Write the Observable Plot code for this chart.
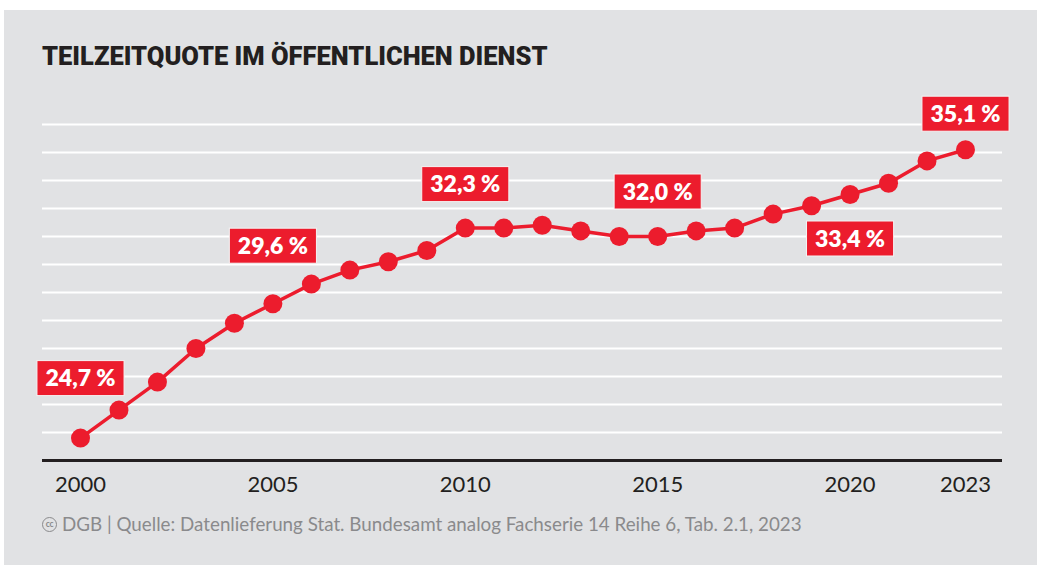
<!DOCTYPE html>
<html><head><meta charset="utf-8">
<script src="https://cdn.jsdelivr.net/npm/d3@7"></script>
<script src="https://cdn.jsdelivr.net/npm/@observablehq/plot@0.6"></script>
<style>
html,body{margin:0;padding:0;background:#fff;width:1037px;height:565px;overflow:hidden;}
#bg{position:absolute;left:4px;top:10px;width:1033px;height:555px;background:#e1e2e4;}
#title{position:absolute;left:42px;top:44px;font-family:Roboto,sans-serif;font-weight:900;font-size:25.5px;line-height:1;color:#231f20;white-space:nowrap;}
#chart{position:absolute;left:0;top:90px;}
#caption{position:absolute;left:42px;top:514px;font-family:Lato,sans-serif;font-size:18.8px;line-height:20px;height:20px;color:#8a8a8c;white-space:nowrap;display:flex;align-items:center;}
#caption .cc{display:inline-flex;align-items:center;justify-content:center;box-sizing:border-box;width:15px;height:15px;border:1.5px solid #8a8a8c;border-radius:50%;font-size:8.5px;font-weight:700;line-height:1;margin-right:5px;letter-spacing:-0.4px;}
</style>
</head><body>
<div id="bg"></div>
<div id="title">TEILZEITQUOTE IM ÖFFENTLICHEN DIENST</div>
<div id="chart"></div>
<div id="caption"><span class="cc">cc</span><span>DGB | Quelle: Datenlieferung Stat. Bundesamt analog Fachserie 14 Reihe 6, Tab. 2.1, 2023</span></div>
<script>
// ---- data ----
const years = [2000, 2001, 2002, 2003, 2004, 2005, 2006, 2007, 2008, 2009, 2010, 2011,
               2012, 2013, 2014, 2015, 2016, 2017, 2018, 2019, 2020, 2021, 2022, 2023];
const quote = [24.8, 25.8, 26.8, 28.0, 28.9, 29.6, 30.3, 30.8, 31.1, 31.5, 32.3, 32.3,
               32.4, 32.2, 32.0, 32.0, 32.2, 32.3, 32.8, 33.1, 33.5, 33.9, 34.7, 35.1];
const labelYears = [2000, 2005, 2010, 2015, 2020, 2023];
const labelTexts = ["24,7 %", "29,6 %", "32,3 %", "32,0 %", "33,4 %", "35,1 %"];
const xTicks = [2000, 2005, 2010, 2015, 2020, 2023];
const yGrid = [25, 26, 27, 28, 29, 30, 31, 32, 33, 34, 35, 36];
const yBase = [24];

// ---- build ----
const RED = "#ec1c2d";
const labelDy = {2000: -59, 2005: -57, 2010: -43, 2015: -44, 2020: 45, 2023: -35};
const data = years.map((y, i) => ({year: y, value: quote[i]}));
const labels = labelYears.map((y, i) => ({year: y, value: quote[years.indexOf(y)], text: labelTexts[i]}));

const plot = Plot.plot({
  width: 1037, height: 420,
  marginTop: 34, marginBottom: 50, marginLeft: 42, marginRight: 35,
  style: {background: "transparent", fontFamily: "Lato, sans-serif", fontSize: "22px", color: "#231f20", overflow: "visible"},
  x: {domain: [2000, 2023], insetLeft: 38, insetRight: 37, label: null},
  y: {domain: [24, 36], label: null, axis: null},
  marks: [
    Plot.ruleY(yGrid, {stroke: "#ffffff", strokeWidth: 2}),
    Plot.ruleY(yBase, {stroke: "#231f20", strokeWidth: 3}),
    Plot.axisX({ticks: xTicks, tickFormat: d => String(d), tickSize: 0, tickPadding: 16, label: null, fontSize: 22}),
    Plot.line(data, {x: "year", y: "value", stroke: RED, strokeWidth: 3.5}),
    Plot.dot(data, {x: "year", y: "value", r: 9.5, fill: RED}),
    ...labels.map(l => Plot.text([l], {
      x: "year", y: "value", text: "text", dy: labelDy[l.year],
      fill: "#ffffff", fontSize: 23, fontWeight: 800, lineAnchor: "middle", textAnchor: "middle"
    }))
  ]
});
document.getElementById("chart").appendChild(plot);

// red boxes behind the label texts
const NS = "http://www.w3.org/2000/svg";
plot.querySelectorAll('g[aria-label="text"] text').forEach(t => {
  const b = t.getBBox();
  const r = document.createElementNS(NS, "rect");
  r.setAttribute("x", b.x - 8.5);
  r.setAttribute("width", b.width + 17);
  r.setAttribute("y", -18.5);
  r.setAttribute("height", 35);
  r.setAttribute("fill", RED);
  r.setAttribute("stroke", "#f4f4f4");
  r.setAttribute("stroke-width", 1);
  if (t.hasAttribute("transform")) r.setAttribute("transform", t.getAttribute("transform"));
  t.parentNode.insertBefore(r, t);
});
</script>
</body></html>
